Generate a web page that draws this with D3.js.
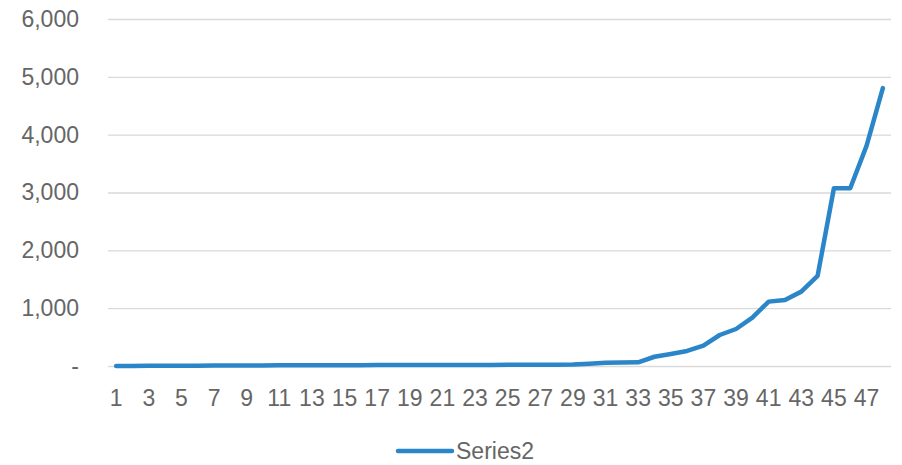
<!DOCTYPE html>
<html><head><meta charset="utf-8">
<script src="https://cdn.jsdelivr.net/npm/d3@7"></script>
<style>body{margin:0;background:#fff}svg{display:block}</style>
</head><body>
<svg id="c" width="902" height="465"></svg>
<script>
const categories = d3.range(1, 49);
const series2 = [0,2,3,4,5,6,7,8,9,10,11,12,13,14,15,15,16,16,17,17,18,18,19,19,20,20,21,22,24,40,55,60,64,160,207,260,351,536,640,836,1113,1142,1286,1557,3074,3074,3806,4804];
const yTicks = [0,1000,2000,3000,4000,5000,6000];
const seriesName = "Series2";

const svg = d3.select("#c");
const font = "'Liberation Sans', Arial, sans-serif";
const fs = "23px";
const txt = "#666666";
const m = {l:108, r:11, t:19, b:99};
const W = 902, H = 465;
const x = d3.scaleBand().domain(categories).range([m.l, W - m.r]);
const y = d3.scaleLinear().domain([0, 6000]).range([H - m.b, m.t]);

const fmt = v => v === 0 ? "-" : d3.format(",")(v);

const yAxis = svg.append("g").attr("transform", `translate(${m.l},0)`)
  .call(d3.axisLeft(y).tickValues(yTicks).tickSize(-(W - m.l - m.r)).tickFormat(fmt));
yAxis.select(".domain").remove();
yAxis.selectAll(".tick line").attr("stroke", "#d9d9d9").attr("stroke-width", 1.3);
yAxis.selectAll(".tick text").attr("x", -29).attr("fill", txt)
  .style("font-family", font).style("font-size", fs);

const xAxis = svg.append("g").attr("transform", `translate(0,${H - m.b})`)
  .call(d3.axisBottom(x).tickValues(categories.filter(d => d % 2 === 1)).tickSize(0).tickPadding(24));
xAxis.select(".domain").remove();
xAxis.selectAll(".tick text").attr("fill", txt)
  .style("font-family", font).style("font-size", fs);

const line = d3.line().x((d, i) => x(categories[i]) + x.bandwidth() / 2).y(d => y(d));
svg.append("path").datum(series2).attr("d", line)
  .attr("fill", "none").attr("stroke", "#2a86c8").attr("stroke-width", 4.5)
  .attr("stroke-linejoin", "round").attr("stroke-linecap", "round");

const lg = svg.append("g").attr("transform", "translate(398,451)");
lg.append("line").attr("x1", 0).attr("x2", 54).attr("y1", 0).attr("y2", 0)
  .attr("stroke", "#2a86c8").attr("stroke-width", 4.5).attr("stroke-linecap", "round");
lg.append("text").attr("x", 58).attr("y", 8).text(seriesName).attr("fill", txt)
  .style("font-family", font).style("font-size", fs);
</script>
</body></html>
